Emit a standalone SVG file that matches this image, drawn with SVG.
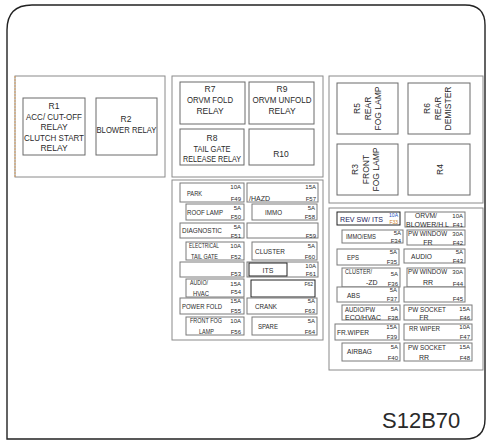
<svg xmlns="http://www.w3.org/2000/svg" width="492" height="443" viewBox="0 0 492 443">
<style>
text{font-family:"Liberation Sans",Arial,sans-serif;fill:#2a2a2a}
.panel{fill:#fff;stroke:#8a8a8a;stroke-width:1}
.relay{fill:#fff;stroke:#6a6a6a;stroke-width:1}
.fuse{fill:#fff;stroke:#7a7a7a;stroke-width:1}
.dark{fill:#fff;stroke:#222;stroke-width:1}
.rl{font-size:8.5px;text-anchor:middle}
.lb{font-size:7px}
.lc{font-size:7px;text-anchor:middle}
.am{font-size:6px;text-anchor:end}
</style>
<rect width="492" height="443" fill="#fff"/>
<path d="M7 439 V30 Q7 5 32 5 H465 Q485 5 485 25 V419 Q485 439 465 439 Z" fill="none" stroke="#222" stroke-width="1.4"/>

<g id="panel-left">
<rect class="panel" x="15" y="76" width="150" height="101"/>
<line x1="15" y1="76" x2="15" y2="177" stroke="#d9a060" stroke-width="1" stroke-dasharray="2,1"/>
</g>
<g id="R1"><rect class="relay" x="23" y="98" width="62" height="57"/>
<text class="rl" x="54" y="109">R1</text><text class="rl" x="54" y="119.5" textLength="56" lengthAdjust="spacingAndGlyphs">ACC/ CUT-OFF</text><text class="rl" x="54" y="130">RELAY</text><text class="rl" x="54" y="140.5" textLength="60" lengthAdjust="spacingAndGlyphs">CLUTCH START</text><text class="rl" x="54" y="151">RELAY</text></g>
<g id="R2"><rect class="relay" x="96" y="98" width="61" height="57"/>
<text class="rl" x="126" y="122">R2</text><text class="rl" x="126.5" y="133" textLength="60" lengthAdjust="spacingAndGlyphs">BLOWER RELAY</text></g>

<g id="panel-mid-top"><rect class="panel" x="172" y="76" width="151" height="101"/></g>
<g id="R7"><rect class="relay" x="180" y="82" width="65" height="42"/>
<text class="rl" x="210" y="92">R7</text><text class="rl" x="210" y="103" textLength="46" lengthAdjust="spacingAndGlyphs">ORVM FOLD</text><text class="rl" x="210" y="114">RELAY</text></g>
<g id="R9"><rect class="relay" x="249" y="82" width="65" height="42"/>
<text class="rl" x="282" y="92">R9</text><text class="rl" x="282" y="103" textLength="59" lengthAdjust="spacingAndGlyphs">ORVM UNFOLD</text><text class="rl" x="282" y="114">RELAY</text></g>
<g id="R8"><rect class="relay" x="180" y="129" width="64" height="36"/>
<text class="rl" x="212" y="141">R8</text><text class="rl" x="212" y="151.5" textLength="37" lengthAdjust="spacingAndGlyphs">TAIL GATE</text><text class="rl" x="212" y="162" textLength="58" lengthAdjust="spacingAndGlyphs">RELEASE RELAY</text></g>
<g id="R10"><rect class="relay" x="249" y="129" width="65" height="36"/>
<text class="rl" x="281" y="157">R10</text></g>

<g id="panel-right-top"><rect class="panel" x="329" y="76" width="154" height="127"/></g>
<g id="R5"><rect class="relay" x="337" y="83" width="61" height="51"/>
<text class="rl" transform="translate(360,108.5) rotate(-90)"><tspan x="0" y="0">R5</tspan><tspan x="0" y="10.5">REAR</tspan><tspan x="0" y="21">FOG LAMP</tspan></text></g>
<g id="R6"><rect class="relay" x="408" y="83" width="62" height="51"/>
<text class="rl" transform="translate(430,108.5) rotate(-90)"><tspan x="0" y="0">R6</tspan><tspan x="0" y="10.5">REAR</tspan><tspan x="0" y="21">DEMISTER</tspan></text></g>
<g id="R3"><rect class="relay" x="337" y="144" width="61" height="51"/>
<text class="rl" transform="translate(358,169.5) rotate(-90)"><tspan x="0" y="0">R3</tspan><tspan x="0" y="10.5">FRONT</tspan><tspan x="0" y="21">FOG LAMP</tspan></text></g>
<g id="R4"><rect class="relay" x="408" y="144" width="62" height="51"/>
<text class="rl" transform="translate(443,169.5) rotate(-90)">R4</text></g>

<g id="panel-mid-fuse"><rect class="panel" x="172" y="180" width="151" height="160"/></g>
<g id="F49"><rect class="fuse" x="180" y="183" width="64" height="19"/><text class="lb" x="187" y="196" textLength="15" lengthAdjust="spacingAndGlyphs">PARK</text><text class="am" x="241" y="189">10A</text><text class="am" x="241" y="200.5">F49</text></g>
<g id="F57"><rect class="fuse" x="247" y="183" width="71" height="19"/><text class="lb" x="249" y="200.5">/HAZD</text><text class="am" x="316" y="189">15A</text><text class="am" x="316" y="200.5">F57</text></g>
<g id="F50"><rect class="fuse" x="186" y="204" width="58" height="16"/><text class="lb" x="187" y="214.5" textLength="36" lengthAdjust="spacingAndGlyphs">ROOF LAMP</text><text class="am" x="241" y="210">5A</text><text class="am" x="241" y="219">F50</text></g>
<g id="F58"><rect class="fuse" x="252" y="204" width="65" height="16"/><text class="lb" x="265" y="214.5" textLength="17" lengthAdjust="spacingAndGlyphs">IMMO</text><text class="am" x="315" y="210">5A</text><text class="am" x="315" y="219">F58</text></g>
<g id="F51"><rect class="fuse" x="180" y="223" width="64" height="15"/><text class="lb" x="182" y="233" textLength="40" lengthAdjust="spacingAndGlyphs">DIAGNOSTIC</text><text class="am" x="241" y="229">5A</text><text class="am" x="241" y="237.5">F51</text></g>
<g id="F59"><rect class="fuse" x="247" y="223" width="71" height="15"/><text class="am" x="316" y="237.5">F59</text></g>
<g id="F52"><rect class="fuse" x="186" y="242" width="58" height="18"/><text class="lb" x="189" y="248" style="font-size:6.3px" textLength="30" lengthAdjust="spacingAndGlyphs">ELECTRICAL</text><text class="lb" x="191" y="258.5" textLength="27" lengthAdjust="spacingAndGlyphs">TAIL GATE</text><text class="am" x="241" y="248">10A</text><text class="am" x="241" y="258.5">F52</text></g>
<g id="F60"><rect class="fuse" x="252" y="242" width="65" height="18"/><text class="lb" x="255" y="254" textLength="30" lengthAdjust="spacingAndGlyphs">CLUSTER</text><text class="am" x="315" y="248">5A</text><text class="am" x="315" y="258.5">F60</text></g>
<g id="F53"><rect class="fuse" x="180" y="262" width="64" height="15"/><text class="am" x="241" y="275.5">F53</text></g>
<g id="F61"><rect class="fuse" x="247" y="262" width="71" height="15"/><rect class="dark" x="249" y="263" width="38" height="13"/><text class="lc" x="268" y="272.5">ITS</text><text class="am" x="316" y="268">10A</text><text class="am" x="316" y="276">F61</text></g>
<g id="F62"><rect class="dark" x="251" y="280" width="64" height="17"/><text class="am" x="313" y="286" style="font-size:5px">F62</text></g>
<g id="F54"><rect class="fuse" x="186" y="279" width="58" height="18"/><text class="lb" x="190" y="284.5" textLength="18" lengthAdjust="spacingAndGlyphs">AUDIO/</text><text class="lb" x="193" y="295.5" textLength="16" lengthAdjust="spacingAndGlyphs">HVAC</text><text class="am" x="241" y="286">15A</text><text class="am" x="241" y="294">F54</text></g>
<g id="F55"><rect class="fuse" x="180" y="298" width="64" height="16"/><text class="lb" x="182" y="309" textLength="40" lengthAdjust="spacingAndGlyphs">POWER FOLD</text><text class="am" x="241" y="303">15A</text><text class="am" x="241" y="313">F55</text></g>
<g id="F63"><rect class="fuse" x="247" y="298" width="70" height="16"/><text class="lb" x="255" y="309" textLength="22" lengthAdjust="spacingAndGlyphs">CRANK</text><text class="am" x="315" y="303">5A</text><text class="am" x="315" y="313">F63</text></g>
<g id="F56"><rect class="fuse" x="186" y="317" width="58" height="18"/><text class="lb" x="190" y="322.5" textLength="32" lengthAdjust="spacingAndGlyphs">FRONT FOG</text><text class="lb" x="199" y="333.5" textLength="15" lengthAdjust="spacingAndGlyphs">LAMP</text><text class="am" x="241" y="323">10A</text><text class="am" x="241" y="333.5">F56</text></g>
<g id="F64"><rect class="fuse" x="252" y="317" width="65" height="18"/><text class="lb" x="258" y="329" textLength="20" lengthAdjust="spacingAndGlyphs">SPARE</text><text class="am" x="315" y="323">5A</text><text class="am" x="315" y="333.5">F64</text></g>

<g id="panel-right-fuse"><rect class="panel" x="329" y="208" width="154" height="162"/></g>
<g id="F33"><rect class="dark" x="337" y="212" width="63" height="13"/><text class="lb" x="340" y="221.5" style="fill:#1a1a5a" textLength="43" lengthAdjust="spacingAndGlyphs">REV SW/ ITS</text><text class="am" x="398" y="217" style="font-size:5px;fill:#2050c0">10A</text><text class="am" x="398" y="223.5" style="font-size:5px;fill:#d08020">F33</text></g>
<g id="F41"><rect class="fuse" x="405" y="212" width="60" height="15"/><text class="lb" x="415" y="218" textLength="22" lengthAdjust="spacingAndGlyphs">ORVM/</text><text class="lb" x="406" y="226.5" textLength="43" lengthAdjust="spacingAndGlyphs">BLOWER/H L</text><text class="am" x="463" y="218">10A</text><text class="am" x="463" y="226.5">F41</text></g>
<g id="F34"><rect class="fuse" x="342" y="230" width="61" height="13"/><text class="lb" x="346" y="239" textLength="30" lengthAdjust="spacingAndGlyphs">IMMO/EMS</text><text class="am" x="401" y="235">5A</text><text class="am" x="401" y="242.5">F34</text></g>
<g id="F42"><rect class="fuse" x="407" y="230" width="58" height="15"/><text class="lb" x="408" y="236" textLength="39" lengthAdjust="spacingAndGlyphs">PW WINDOW</text><text class="lc" x="428" y="244.5">FR</text><text class="am" x="463" y="236">30A</text><text class="am" x="463" y="244.5">F42</text></g>
<g id="F35"><rect class="fuse" x="337" y="249" width="62" height="16"/><text class="lb" x="347" y="259.5" textLength="12" lengthAdjust="spacingAndGlyphs">EPS</text><text class="am" x="397" y="254">5A</text><text class="am" x="397" y="264">F35</text></g>
<g id="F43"><rect class="fuse" x="404" y="249" width="61" height="14"/><text class="lb" x="411" y="259" textLength="21" lengthAdjust="spacingAndGlyphs">AUDIO</text><text class="am" x="463" y="254">5A</text><text class="am" x="463" y="262.5">F43</text></g>
<g id="F36"><rect class="fuse" x="342" y="268" width="58" height="19"/><text class="lb" x="345" y="274" textLength="27" lengthAdjust="spacingAndGlyphs">CLUSTER/</text><text class="lb" x="366" y="285">-ZD</text><text class="am" x="398" y="276">5A</text><text class="am" x="398" y="285.5">F36</text></g>
<g id="F44"><rect class="fuse" x="407" y="268" width="58" height="19"/><text class="lb" x="408" y="274" textLength="39" lengthAdjust="spacingAndGlyphs">PW WINDOW</text><text class="lc" x="428" y="285">RR</text><text class="am" x="463" y="274">30A</text><text class="am" x="463" y="285.5">F44</text></g>
<g id="F37"><rect class="fuse" x="337" y="287" width="62" height="15"/><text class="lb" x="347" y="297.5" textLength="13" lengthAdjust="spacingAndGlyphs">ABS</text><text class="am" x="397" y="292">5A</text><text class="am" x="397" y="301">F37</text></g>
<g id="F45"><rect class="fuse" x="404" y="287" width="61" height="15"/><text class="am" x="463" y="301">F45</text></g>
<g id="F38"><rect class="fuse" x="342" y="305" width="58" height="15"/><text class="lb" x="345" y="311.5" textLength="30" lengthAdjust="spacingAndGlyphs">AUDIO/PW</text><text class="lb" x="345" y="320" textLength="36" lengthAdjust="spacingAndGlyphs">ECO/HVAC</text><text class="am" x="398" y="311">5A</text><text class="am" x="398" y="320">F38</text></g>
<g id="F46"><rect class="fuse" x="404" y="305" width="68" height="15"/><text class="lb" x="408" y="311.5" textLength="38" lengthAdjust="spacingAndGlyphs">PW SOCKET</text><text class="lc" x="424" y="320">FR</text><text class="am" x="470" y="311">15A</text><text class="am" x="470" y="320">F46</text></g>
<g id="F39"><rect class="fuse" x="335" y="324" width="64" height="16"/><text class="lb" x="337" y="334.5" textLength="32" lengthAdjust="spacingAndGlyphs">FR.WIPER</text><text class="am" x="397" y="329">15A</text><text class="am" x="397" y="339">F39</text></g>
<g id="F47"><rect class="fuse" x="404" y="324" width="68" height="16"/><text class="lb" x="409" y="331" textLength="31" lengthAdjust="spacingAndGlyphs">RR WIPER</text><text class="am" x="470" y="329">10A</text><text class="am" x="470" y="339">F47</text></g>
<g id="F40"><rect class="fuse" x="342" y="343" width="58" height="18"/><text class="lb" x="347" y="354" textLength="25" lengthAdjust="spacingAndGlyphs">AIRBAG</text><text class="am" x="398" y="349">5A</text><text class="am" x="398" y="359.5">F40</text></g>
<g id="F48"><rect class="fuse" x="404" y="343" width="68" height="18"/><text class="lb" x="408" y="350" textLength="38" lengthAdjust="spacingAndGlyphs">PW SOCKET</text><text class="lc" x="424" y="360">RR</text><text class="am" x="470" y="349">15A</text><text class="am" x="470" y="359.5">F48</text></g>

<g id="connectors"></g>
<text x="382" y="428" style="font-size:22px">S12B70</text>
</svg>
